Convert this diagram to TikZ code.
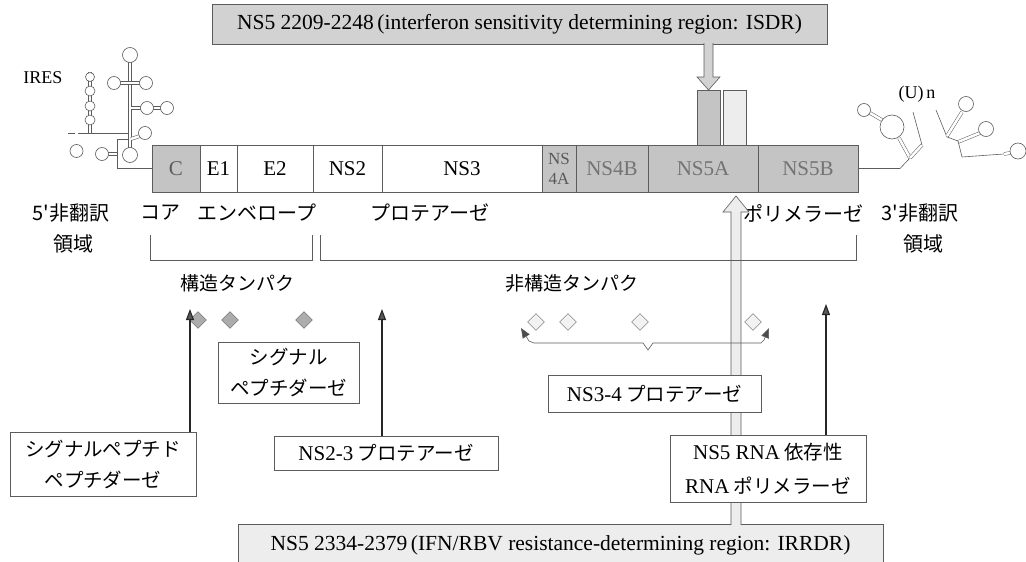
\documentclass[tikz,border=0pt]{standalone}
\usepackage{fontspec}
\setmainfont{Liberation Serif}
\newfontfamily\jp{Noto Sans CJK JP}
\usetikzlibrary{arrows.meta, shapes.geometric, positioning, calc}
\definecolor{protgray}{HTML}{C4C4C4}
\definecolor{boxgray}{HTML}{D2D2D2}
\definecolor{paleboxgray}{HTML}{EDEDED}
\definecolor{inkgray}{HTML}{5C5C5C}
\newcommand{\lat}[1]{{\rmfamily\fontsize{21}{30}\selectfont #1}}
\tikzset{
  seg/.style={draw=inkgray, line width=0.6pt, minimum height=47pt, inner sep=0pt, outer sep=0pt, anchor=west, font=\fontsize{21}{22}\selectfont},
  tab/.style={draw=inkgray, line width=0.6pt, minimum width=23pt, minimum height=55pt, inner sep=0pt, outer sep=0pt},
  infobox/.style={draw=inkgray, line width=0.6pt, inner sep=0pt, outer sep=0pt, font=\fontsize{21.5}{24}\selectfont},
  tagbox/.style={draw=inkgray, line width=0.6pt, fill=white, align=center, inner sep=0pt, outer sep=0pt, font=\jp\fontsize{19.5}{31}\selectfont},
  lbl/.style={inner sep=0pt, font=\jp\fontsize{20}{22}\selectfont},
  hollow/.style={draw=inkgray, line width=0.6pt},
  rna/.style={draw=inkgray, line width=0.6pt},
  stem/.style={draw=inkgray, line width=0.5pt, double=white, double distance=2.5pt},
  loop/.style={draw=inkgray, line width=0.6pt, fill=white},
  cleave/.style={diamond, draw=inkgray, fill=gray!65, minimum width=17pt, minimum height=17pt, inner sep=0pt},
  nscleave/.style={diamond, draw=inkgray, fill=gray!10, minimum width=17pt, minimum height=17pt, inner sep=0pt},
  pin/.style={draw=black!85, line width=1.1pt, -{Triangle[length=11pt, width=8pt, fill=black!65]}},
  brace/.style={draw=inkgray, line width=0.6pt, {Triangle[length=10pt, width=8pt, fill=black!70]}-{Triangle[length=10pt, width=8pt, fill=black!70]}}
}
\begin{document}
\begin{tikzpicture}[x=1pt, y=-1pt]
\useasboundingbox (0,0) rectangle (1026,562);

% ISDR box and its arrow onto NS5A
\node[infobox, fill=boxgray, minimum width=615pt, minimum height=40pt] (isdr) at (519.5,24) {NS5 2209-2248\,(interferon sensitivity determining region: ISDR)};
\node[tab, fill=protgray] (isdrtab) at (708.5,117.5) {};
\node[tab, fill=paleboxgray] (tabR) at (734.5,117.5) {};
\coordinate (isdrtip) at (isdrtab.north);
\filldraw[hollow, fill=boxgray] ($(isdrtip |- isdr.south)+(-4.5,-1)$) -- ($(isdrtip)+(-4.5,-13)$) -- ++(-7,0) -- (isdrtip) -- ++(11.5,-13) -- ++(-7,0) -- ($(isdrtip |- isdr.south)+(4.5,-1)$);

% genome
\node[seg, fill=protgray, text=inkgray, minimum width=48pt] (c) at (152,168.5) {C};
\node[seg, fill=white, minimum width=37pt, right=0pt of c] (e1) {E1};
\node[seg, fill=white, minimum width=76pt, right=0pt of e1] (e2) {E2};
\node[seg, fill=white, minimum width=69pt, right=0pt of e2] (ns2) {NS2};
\node[seg, fill=white, minimum width=160pt, right=0pt of ns2] (ns3) {NS3};
\node[seg, fill=protgray, text=black!65, minimum width=34pt, align=center, font=\fontsize{17}{20}\selectfont, right=0pt of ns3] (ns4a) {NS\\4A};
\node[seg, fill=protgray, text=black!55, minimum width=72pt, right=0pt of ns4a] (ns4b) {NS4B};
\node[seg, fill=protgray, text=black!55, minimum width=110pt, right=0pt of ns4b] (ns5a) {NS5A};
\node[seg, fill=protgray, text=black!55, minimum width=100pt, right=0pt of ns5a] (ns5b) {NS5B};

% 5' IRES
\node[font=\fontsize{18}{20}\selectfont, inner sep=0pt] (ires) at (43,78) {IRES};
\draw[rna] (68,133) -- (128,133);
\draw[rna] (128,139) -- (117,139) -- (117,168.5) -- (c.west);
\draw[stem] (130,62) -- (130,148);
\draw[stem] (120,83) -- (140,83);
\draw[stem] (131,108) -- (161,108);
\draw[stem] (131,139) -- (140,136);
\draw[stem] (90,72) -- (90,133);
\draw[stem] (76.5,133) -- (76.5,145);
\draw[stem] (108,154) -- (117,154);
\foreach \px/\py/\r in {130/55/7.5, 114/83/6.5, 146/83/6.5, 147/108/6.5, 167/108/6.5, 145/133/6.5,
  90/77/4.5, 90/91/5, 90/106/5, 90/120/5, 76.5/151/6.5, 102/154/6.5, 130/155/7.5}
  \draw[loop] (\px,\py) circle[radius=\r];

% 3' end
\node[font=\fontsize{18}{20}\selectfont, inner sep=0pt] (polyu) at (917,94) {(U)\,n};
\draw[rna] (ns5b.east) -- (900,168.5) -- (910,158);
\draw[stem] (910,158) -- (899,138);
\draw[stem] (882,120) -- (870,113);
\draw[stem] (910,158) -- (922,145);
\draw[rna] (922,145) -- (913,112);
\draw[rna] (936,110) -- (947,137) -- (958,141);
\draw[stem] (947,136) -- (962,112);
\draw[stem] (958,142) -- (980,133);
\draw[rna] (958,141) -- (962,157) -- (1004,154);
\draw[stem] (1004,154) -- (1010,153);
\foreach \px/\py/\r in {892/127/12, 864/110/6.5, 966/104/7.5, 986/129/7.5, 1018/151/8}
  \draw[loop] (\px,\py) circle[radius=\r];

% region labels
\node[lbl] (utr5) at (71,213) {5'非翻訳};
\node[lbl] (utr5b) at (73,244) {領域};
\node[lbl] (core) at (160,213) {コア};
\node[lbl] (env) at (257,213) {エンベロープ};
\node[lbl] (prot) at (430,213) {プロテアーゼ};
\node[lbl] (pol) at (803,213) {ポリメラーゼ};
\node[lbl] (utr3) at (920,213) {3'非翻訳};
\node[lbl] (utr3b) at (923,244) {領域};

% IRRDR box and its arrow onto NS5A
\node[infobox, fill=paleboxgray, minimum width=645pt, minimum height=42pt] (irrdr) at (560.5,545) {NS5 2334-2379\,(IFN/RBV resistance-determining region: IRRDR)};
\coordinate (uptip) at (736,196);
\filldraw[hollow, fill=paleboxgray] ($(uptip |- irrdr.north)+(-5,1)$) -- ($(uptip)+(-5,16)$) -- ++(-8,0) -- (uptip) -- ++(13,16) -- ++(-8,0) -- ($(uptip |- irrdr.north)+(5,1)$);

% structural / non-structural brackets
\draw[rna] (150,235) -- (150,260) -- (312,260) -- (312,235);
\draw[rna] (320,235) -- (320,260) -- (856,260) -- (856,235);
\node[lbl, font=\jp\fontsize{19}{22}\selectfont] (struct) at (237,283) {構造タンパク};
\node[lbl, font=\jp\fontsize{19}{22}\selectfont] (nonstruct) at (572,283) {非構造タンパク};

% cleavage sites
\foreach \x [count=\i] in {198,230,304}
  \node[cleave] (sc\i) at (\x,320) {};
\foreach \x [count=\i] in {536,568,640,753}
  \node[nscleave] (nc\i) at (\x,322) {};
\coordinate (bl) at (521,328);
\coordinate (br) at (769,328);
\draw[brace] (bl) -- (529,341) -- (534,343) -- (643,343) -- (648,350) -- (653,343) -- (761,343) -- (764,340) -- (br);

% enzymes
\node[tagbox, minimum width=141pt, minimum height=61pt] (sigpase) at (288.5,372.5) {シグナル\\ペプチダーゼ};
\node[tagbox, minimum width=213pt, minimum height=37pt] (ns34) at (654.5,393.5) {\lat{NS3-4} プロテアーゼ};
\node[tagbox, minimum width=186pt, minimum height=64pt] (sigpep) at (103,464) {シグナルペプチド\\ペプチダーゼ};
\node[tagbox, minimum width=224pt, minimum height=34pt] (ns23) at (386,453) {\lat{NS2-3} プロテアーゼ};
\node[tagbox, minimum width=196pt, minimum height=67pt, font=\jp\fontsize{19.5}{34}\selectfont] (rdrp) at (768,468.5) {\lat{NS5 RNA} 依存性\\\lat{RNA} ポリメラーゼ};

\coordinate (tipsp) at (190,309);
\coordinate (tipns23) at (382,309);
\coordinate (tiprdrp) at (826,304);
\draw[pin] (sigpep.north -| tipsp) -- (tipsp);
\draw[pin] (ns23.north -| tipns23) -- (tipns23);
\draw[pin] (rdrp.north -| tiprdrp) -- (tiprdrp);
\end{tikzpicture}
\end{document}
